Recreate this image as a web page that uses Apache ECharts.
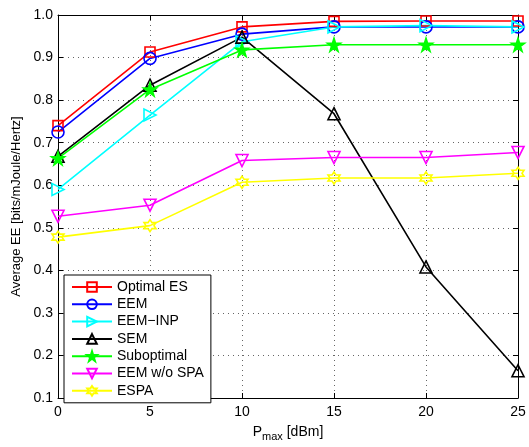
<!DOCTYPE html>
<html>
<head>
<meta charset="utf-8">
<script src="https://cdn.jsdelivr.net/npm/echarts@6/dist/echarts.min.js"></script>
<style>
  html, body { margin: 0; padding: 0; background: #fff; }
  #main { width: 529px; height: 447px; }
</style>
</head>
<body>
<div id="main"></div>
<script>
// 横轴 Pmax [dBm]
var pmax = [0, 5, 10, 15, 20, 25];

// 各曲线数值
var optimalES = [0.740, 0.913, 0.972, 0.985, 0.986, 0.986];
var eem = [0.725, 0.898, 0.955, 0.972, 0.972, 0.972];
var eemInp = [0.590, 0.765, 0.937, 0.972, 0.975, 0.972];
var sem = [0.668, 0.835, 0.948, 0.768, 0.408, 0.164];
var suboptimal = [0.663, 0.825, 0.918, 0.930, 0.930, 0.930];
var eemNoSpa = [0.527, 0.553, 0.658, 0.665, 0.665, 0.677];
var espa = [0.478, 0.505, 0.607, 0.617, 0.617, 0.628];

var names = ['Optimal ES', 'EEM', 'EEM\u2212INP', 'SEM', 'Suboptimal', 'EEM w/o SPA', 'ESPA'];

// 标记形状
var starPath = 'path://M0,-100 L22.45,-30.9 L95.1,-30.9 L36.33,11.8 L58.78,80.9 L0,38.2 L-58.78,80.9 L-36.33,11.8 L-95.1,-30.9 L-22.45,-30.9 Z';
var hexPath = 'path://M0,-100 L28.87,-50 L86.6,-50 L57.7,0 L86.6,50 L28.87,50 L0,100 L-28.87,50 L-86.6,50 L-57.7,0 L-86.6,-50 L-28.87,-50 Z';

var font = 'Liberation Sans, Arial, sans-serif';

function makeSeries(name, values, color, symbol, size, rotate, filled) {
    return {
        name: name,
        type: 'line',
        data: pmax.map(function (x, i) { return [x, values[i]]; }),
        symbol: symbol,
        symbolSize: size,
        symbolRotate: rotate,
        showAllSymbol: true,
        lineStyle: { color: color, width: 1.6 },
        itemStyle: {
            color: filled ? color : 'rgba(255,255,255,0)',
            borderColor: color,
            borderWidth: 1.6
        },
        emphasis: { disabled: true },
        z: 3
    };
}

var chart = echarts.init(document.getElementById('main'));

var axisText = { color: '#000', fontSize: 14, fontFamily: font };

var option = {
    animation: false,
    backgroundColor: '#fff',
    grid: { left: 58, right: 11, top: 15, bottom: 41 },
    legend: {
        orient: 'vertical',
        left: 64,
        top: 275,
        itemWidth: 40,
        itemHeight: 12,
        itemGap: 3.3,
        padding: [5, 7, 5, 7],
        backgroundColor: '#fff',
        borderColor: '#000',
        borderWidth: 1,
        textStyle: { color: '#000', fontSize: 14, fontFamily: font },
        data: names
    },
    xAxis: [
        {
            type: 'value',
            min: 0,
            max: 25,
            interval: 5,
            name: '{p|P}{s|max}{p| [dBm]}',
            nameLocation: 'middle',
            nameGap: 24,
            nameTextStyle: {
                rich: {
                    p: { fontSize: 14, color: '#000', fontFamily: font },
                    s: { fontSize: 11, color: '#000', fontFamily: font, padding: [9, 0, 0, 0] }
                }
            },
            axisLine: { show: true, onZero: false, lineStyle: { color: '#000', width: 1 } },
            axisTick: { inside: true, length: 5, lineStyle: { color: '#000' } },
            axisLabel: Object.assign({ margin: 7 }, axisText),
            splitLine: { show: true, lineStyle: { type: [1, 4], color: '#666' } }
        },
        {
            type: 'value',
            position: 'top',
            min: 0,
            max: 25,
            interval: 5,
            axisLine: { show: true, onZero: false, lineStyle: { color: '#000', width: 1 } },
            axisTick: { show: true, inside: true, length: 5, lineStyle: { color: '#000' } },
            axisLabel: { show: false },
            splitLine: { show: false }
        }
    ],
    yAxis: [
        {
            type: 'value',
            min: 0.1,
            max: 1.0,
            interval: 0.1,
            name: 'Average EE [bits/mJoule/Hertz]',
            nameLocation: 'middle',
            nameGap: 25,
            nameTextStyle: { color: '#000', fontSize: 13, fontFamily: font },
            axisLine: { show: true, onZero: false, lineStyle: { color: '#000', width: 1 } },
            axisTick: { inside: true, length: 5, lineStyle: { color: '#000' } },
            axisLabel: Object.assign({
                margin: 5,
                formatter: function (v) { return v.toFixed(1); }
            }, axisText),
            splitLine: { show: true, lineStyle: { type: [1, 4], color: '#666' } }
        },
        {
            type: 'value',
            position: 'right',
            min: 0.1,
            max: 1.0,
            interval: 0.1,
            axisLine: { show: true, onZero: false, lineStyle: { color: '#000', width: 1 } },
            axisTick: { show: true, inside: true, length: 5, lineStyle: { color: '#000' } },
            axisLabel: { show: false },
            splitLine: { show: false }
        }
    ],
    series: [
        makeSeries(names[0], optimalES, '#ff0000', 'rect', 10, 0, false),
        makeSeries(names[1], eem, '#0000ff', 'circle', 12, 0, false),
        makeSeries(names[2], eemInp, '#00ffff', 'triangle', 12, -90, false),
        makeSeries(names[3], sem, '#000000', 'triangle', 12, 0, false),
        makeSeries(names[4], suboptimal, '#00ff00', starPath, 13, 0, true),
        makeSeries(names[5], eemNoSpa, '#ff00ff', 'triangle', 12, 180, false),
        makeSeries(names[6], espa, '#ffff00', hexPath, 12, 0, false)
    ]
};

chart.setOption(option);
</script>
</body>
</html>
